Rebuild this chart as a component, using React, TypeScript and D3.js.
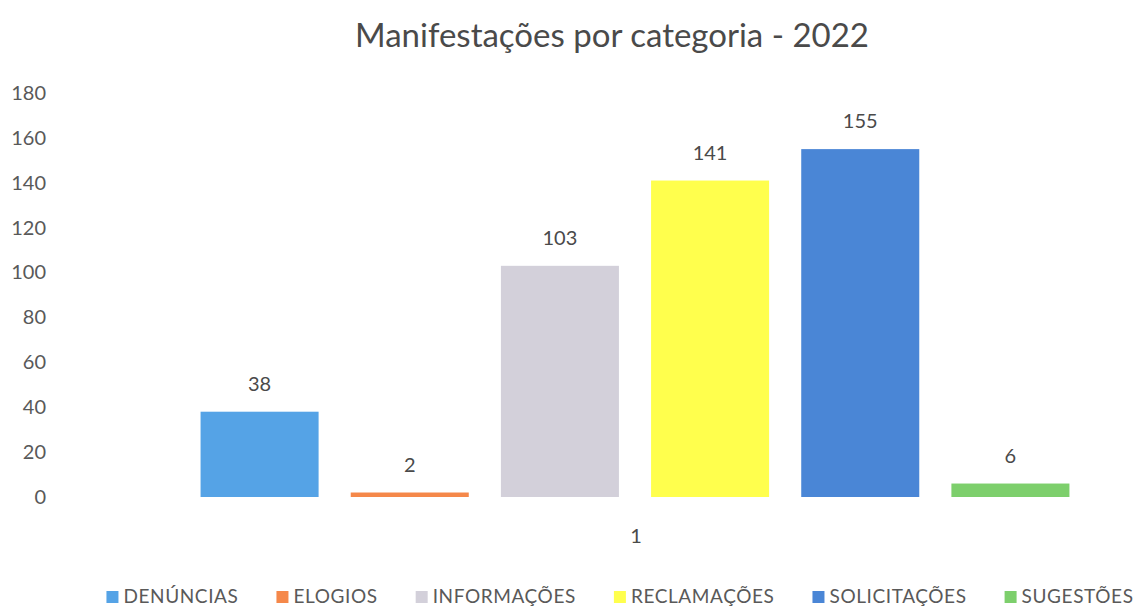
import React, { useEffect, useRef } from 'react';
import * as d3 from 'd3';

// Data
const categories = ['DENÚNCIAS', 'ELOGIOS', 'INFORMAÇÕES', 'RECLAMAÇÕES', 'SOLICITAÇÕES', 'SUGESTÕES'];
const values = [38, 2, 103, 141, 155, 6];
const colors = ['#55a3e6', '#f5884a', '#d3d0da', '#ffff4d', '#4a86d6', '#7dcf6c'];
const yTicks = [0, 20, 40, 60, 80, 100, 120, 140, 160, 180];
const groupLabel = '1';
const title = 'Manifestações por categoria - 2022';

const W = 1134;
const H = 606;
const FONT = 'Lato, "Open Sans", sans-serif';

const App = () => {
  const ref = useRef<SVGSVGElement>(null);

  useEffect(() => {
    const svg = d3.select(ref.current);
    svg.selectAll('*').remove();

    const y = d3.scaleLinear().domain([0, 180]).range([497, 93]);
    const x = d3.scaleBand<string>()
      .domain(categories)
      .range([184.5, 1085.5])
      .paddingInner(0.214)
      .paddingOuter(0.107);

    // Title
    svg.append('text')
      .attr('x', 612)
      .attr('y', 47)
      .attr('text-anchor', 'middle')
      .attr('font-family', FONT)
      .attr('font-size', 33)
      .attr('fill', '#4a4a4a')
      .text(title);

    // Y axis (labels only)
    const yAxis = svg.append('g')
      .attr('transform', 'translate(46,0)')
      .call(d3.axisLeft(y).tickValues(yTicks).tickSize(0).tickPadding(0));
    yAxis.select('.domain').remove();
    yAxis.selectAll('text')
      .attr('font-family', FONT)
      .attr('font-size', 20)
      .attr('fill', '#595959');

    // Bars
    svg.append('g')
      .selectAll('rect')
      .data(values)
      .enter()
      .append('rect')
      .attr('x', (d, i) => x(categories[i])!)
      .attr('width', x.bandwidth())
      .attr('y', d => y(d))
      .attr('height', d => y(0) - y(d))
      .attr('fill', (d, i) => colors[i]);

    // Data labels
    svg.append('g')
      .selectAll('text')
      .data(values)
      .enter()
      .append('text')
      .attr('x', (d, i) => x(categories[i])! + x.bandwidth() / 2)
      .attr('y', d => y(d) - 21)
      .attr('text-anchor', 'middle')
      .attr('font-family', FONT)
      .attr('font-size', 20)
      .attr('fill', '#4a4a4a')
      .text(d => d);

    // Category label
    svg.append('text')
      .attr('x', 636)
      .attr('y', 543)
      .attr('text-anchor', 'middle')
      .attr('font-family', FONT)
      .attr('font-size', 20)
      .attr('fill', '#4a4a4a')
      .text(groupLabel);

    // Legend
    const legend = svg.append('g');
    const items = categories.map((c, i) => {
      const g = legend.append('g');
      g.append('rect')
        .attr('width', 12)
        .attr('height', 12)
        .attr('y', -12)
        .attr('fill', colors[i]);
      const t = g.append('text')
        .attr('x', 17)
        .attr('y', 0)
        .attr('font-family', FONT)
        .attr('font-size', 19)
        .attr('letter-spacing', 0.6)
        .attr('fill', '#595959')
        .text(c);
      const w = 17 + (t.node() as SVGTextElement).getComputedTextLength();
      return { g, w };
    });
    const gap = 38;
    const total = d3.sum(items, d => d.w) + gap * (items.length - 1);
    let cx = 620 - total / 2;
    items.forEach(it => {
      it.g.attr('transform', `translate(${cx},603)`);
      cx += it.w + gap;
    });
  }, []);

  return (
    <svg
      ref={ref}
      width={W}
      height={H}
      style={{ position: 'absolute', left: 0, top: 0, background: '#fff' }}
    />
  );
};

export default App;
